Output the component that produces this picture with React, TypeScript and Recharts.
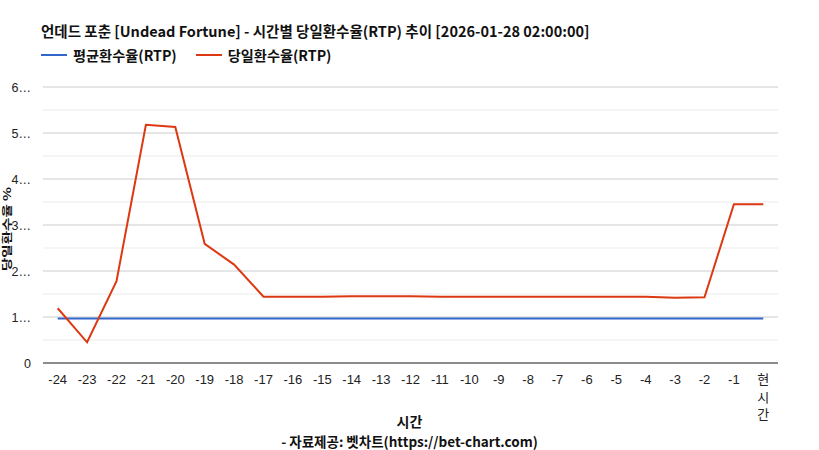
import React from "react";
import { LineChart, Line, XAxis, YAxis, CartesianGrid, ReferenceLine } from "recharts";

const hours = ["-24","-23","-22","-21","-20","-19","-18","-17","-16","-15","-14","-13","-12","-11","-10","-9","-8","-7","-6","-5","-4","-3","-2","-1","현시간"];
const dailyRtp = [1.19, 0.45, 1.78, 5.18, 5.13, 2.59, 2.14, 1.44, 1.44, 1.44, 1.45, 1.45, 1.45, 1.44, 1.44, 1.44, 1.44, 1.44, 1.44, 1.44, 1.44, 1.42, 1.43, 3.45, 3.45];
const avgRtp = [0.97, 0.97, 0.97, 0.97, 0.97, 0.97, 0.97, 0.97, 0.97, 0.97, 0.97, 0.97, 0.97, 0.97, 0.97, 0.97, 0.97, 0.97, 0.97, 0.97, 0.97, 0.97, 0.97, 0.97, 0.97];
const yTicks = [0, 1, 2, 3, 4, 5, 6];
const minorTicks = [0.5, 1.5, 2.5, 3.5, 4.5, 5.5];

const title = "언데드 포춘 [Undead Fortune] - 시간별 당일환수율(RTP) 추이 [2026-01-28 02:00:00]";
const avgName = "평균환수율(RTP)";
const dailyName = "당일환수율(RTP)";
const xTitle = "시간";
const yTitle = "당일환수율 %";
const credit = "- 자료제공: 벳차트(https://bet-chart.com)";

const data = hours.map((h, i) => ({ label: h, avg: avgRtp[i], daily: dailyRtp[i] }));

const KR = "'Noto Sans CJK KR', 'Noto Sans', sans-serif";
const AR = "'Liberation Sans', Arial, sans-serif";

const XTick = (props: any) => {
  const { x, y, payload } = props;
  const v: string = payload.value;
  if (v.startsWith("-")) {
    return (
      <text x={x} y={y + 13} textAnchor="middle" fontFamily={AR} fontSize={13} fill="#222">{v}</text>
    );
  }
  const chars = v.split("");
  return (
    <text x={x} y={y + 13} textAnchor="middle" fontFamily={KR} fontSize={13} fill="#222">
      {chars.map((c, i) => (
        <tspan key={i} x={x} dy={i === 0 ? 0 : 17.5}>{c}</tspan>
      ))}
    </text>
  );
};

const YTick = (props: any) => {
  const { x, y, payload } = props;
  const v = payload.value;
  return (
    <text x={x - 4} y={y + 5} textAnchor="end" fontFamily={AR} fontSize={12.5} fill="#222">
      {v === 0 ? "0" : `${v}…`}
    </text>
  );
};

export default function App() {
  return (
    <div style={{ position: "absolute", left: 0, top: 0, width: 819, height: 450, background: "#fff" }}>
      <div style={{ position: "absolute", left: 41, top: 21, fontFamily: KR, fontWeight: 700, fontSize: 14.5, color: "#111", whiteSpace: "nowrap", lineHeight: "20px" }}>
        {title}
      </div>
      <div style={{ position: "absolute", left: 41, top: 45, fontFamily: KR, fontWeight: 700, fontSize: 14.2, color: "#111", whiteSpace: "nowrap", lineHeight: "20px", display: "flex", alignItems: "center" }}>
        <span style={{ display: "inline-block", width: 26, height: 2, background: "#3366cc", marginRight: 6 }} />
        <span>{avgName}</span>
        <span style={{ display: "inline-block", width: 26, height: 2, background: "#dc3912", marginLeft: 19, marginRight: 6 }} />
        <span>{dailyName}</span>
      </div>
      <div style={{ position: "absolute", left: 0, width: 819, top: 413, textAlign: "center", fontFamily: KR, fontWeight: 700, fontSize: 14, color: "#111", lineHeight: "16px" }}>
        {xTitle}
      </div>
      <div style={{ position: "absolute", left: 0, width: 819, top: 433, textAlign: "center", fontFamily: KR, fontWeight: 700, fontSize: 13.5, color: "#111", lineHeight: "16px" }}>
        {credit}
      </div>
      <div style={{ position: "absolute", left: 7, top: 229, width: 0, height: 0 }}>
        <div style={{ position: "absolute", left: 0, top: 0, transform: "translate(-50%, -50%) rotate(-90deg) scale(1, 0.7)", fontFamily: KR, fontWeight: 700, fontSize: 14.5, color: "#111", whiteSpace: "nowrap", lineHeight: "16px" }}>
          {yTitle}
        </div>
      </div>
      <LineChart width={819} height={450} data={data} margin={{ top: 87, right: 41, bottom: 0, left: 13 }}>
        <CartesianGrid horizontal={true} vertical={false} stroke="#cccccc" strokeDasharray="" />
        {minorTicks.map((t) => (
          <ReferenceLine key={t} y={t} stroke="#ebebeb" strokeWidth={1} ifOverflow="visible" />
        ))}
        <XAxis dataKey="label" type="category" interval={0} tick={<XTick />} tickLine={false} axisLine={false} padding={{ left: 14.7, right: 14.7 }} height={87} />
        <YAxis domain={[0, 6]} ticks={yTicks} tick={<YTick />} tickLine={false} axisLine={false} width={30} interval={0} />
        <ReferenceLine y={0} stroke="#333333" strokeWidth={1} />
        <Line type="linear" dataKey="avg" stroke="#3366cc" strokeWidth={2} dot={false} isAnimationActive={false} />
        <Line type="linear" dataKey="daily" stroke="#dc3912" strokeWidth={2} dot={false} isAnimationActive={false} />
      </LineChart>
    </div>
  );
}
